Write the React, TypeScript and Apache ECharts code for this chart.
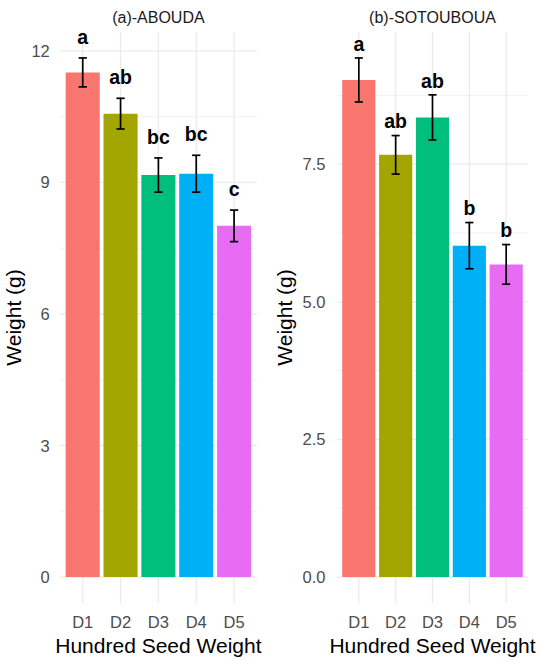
import React, { useEffect, useRef } from "react";
import * as echarts from "echarts";

// ---------- data ----------
const categories = ["D1", "D2", "D3", "D4", "D5"];
const barColors = ["#F8766D", "#A3A500", "#00BF7D", "#00B0F6", "#E76BF3"];

const aboudaMeans = [11.51, 10.57, 9.17, 9.2, 8.01];
const aboudaSE = [0.33, 0.35, 0.39, 0.42, 0.36];
const aboudaLetters = ["a", "ab", "bc", "bc", "c"];
const aboudaMajorTicks = [0, 3, 6, 9, 12];
const aboudaMinorTicks = [1.5, 4.5, 7.5, 10.5];

const sotoMeans = [9.03, 7.67, 8.35, 6.02, 5.68];
const sotoSE = [0.4, 0.35, 0.41, 0.42, 0.36];
const sotoLetters = ["a", "ab", "ab", "b", "b"];
const sotoMajorTicks = [0, 2.5, 5, 7.5];
const sotoMinorTicks = [1.25, 3.75, 6.25, 8.75];

const FONT = '"Liberation Sans", Arial, Helvetica, sans-serif';

type Panel = {
  title: string;
  means: number[];
  se: number[];
  letters: string[];
  major: number[];
  minor: number[];
  decimals: number;
  gridLeft: number;
  gridWidth: number;
  yNameGap: number;
  labelMargin: number;
  letterOffset: number;
};

const panels: Panel[] = [
  {
    title: "(a)-ABOUDA",
    means: aboudaMeans,
    se: aboudaSE,
    letters: aboudaLetters,
    major: aboudaMajorTicks,
    minor: aboudaMinorTicks,
    decimals: 0,
    gridLeft: 63.8,
    gridWidth: 189.2,
    yNameGap: 39.5,
    labelMargin: 14,
    letterOffset: 20.8,
  },
  {
    title: "(b)-SOTOUBOUA",
    means: sotoMeans,
    se: sotoSE,
    letters: sotoLetters,
    major: sotoMajorTicks,
    minor: sotoMinorTicks,
    decimals: 1,
    gridLeft: 340.4,
    gridWidth: 184.2,
    yNameGap: 45.7,
    labelMargin: 15,
    letterOffset: 14.3,
  },
];

const W = 550;
const H = 671;
const PANEL_TOP = 32;
const PANEL_BOTTOM = 603;

function buildOption() {
  const grid: any[] = [];
  const xAxis: any[] = [];
  const yAxis: any[] = [];
  const series: any[] = [];
  const graphic: any[] = [];

  panels.forEach((p, pi) => {
    const hi = Math.max(...p.means.map((m, i) => m + p.se[i]));
    grid.push({
      left: p.gridLeft,
      width: p.gridWidth,
      top: PANEL_TOP,
      bottom: H - PANEL_BOTTOM,
      containLabel: false,
    });
    xAxis.push({
      type: "category",
      gridIndex: pi,
      data: categories,
      axisLine: { show: false },
      axisTick: { show: false },
      splitLine: { show: false },
      axisLabel: {
        margin: 10,
        fontSize: 16.5,
        color: "#4D4D4D",
        fontFamily: FONT,
      },
      name: "Hundred Seed Weight",
      nameLocation: "middle",
      nameGap: 31,
      nameTextStyle: { fontSize: 21, color: "#000000", fontFamily: FONT },
    });
    yAxis.push({
      type: "value",
      gridIndex: pi,
      min: -0.05 * hi,
      max: 1.05 * hi,
      axisLine: { show: false },
      axisTick: { show: false },
      splitLine: { show: false },
      minorSplitLine: { show: false },
      axisLabel: {
        customValues: p.major,
        margin: p.labelMargin,
        fontSize: 16.5,
        color: "#4D4D4D",
        fontFamily: FONT,
        formatter: (v: number) => v.toFixed(p.decimals),
      },
      name: "Weight (g)",
      nameLocation: "middle",
      nameRotate: 90,
      nameGap: p.yNameGap,
      nameTextStyle: { fontSize: 21, color: "#000000", fontFamily: FONT },
    });

    // horizontal grid lines (major + minor), spanning the full ggplot panel
    const hData = [
      ...p.major.map((v) => [0, v, 1]),
      ...p.minor.map((v) => [0, v, 0]),
    ];
    series.push({
      type: "custom",
      xAxisIndex: pi,
      yAxisIndex: pi,
      z: 0,
      silent: true,
      data: hData,
      renderItem: (params: any, api: any) => {
        const cs = params.coordSys;
        const band = api.size([1, 0])[0];
        const y = api.coord([0, api.value(1)])[1];
        const major = api.value(2) === 1;
        return {
          type: "line",
          shape: {
            x1: cs.x - 0.1 * band,
            y1: y,
            x2: cs.x + cs.width + 0.1 * band,
            y2: y,
          },
          style: { stroke: "#EBEBEB", lineWidth: major ? 1.3 : 0.7 },
        };
      },
    });

    // vertical grid lines at category centres
    series.push({
      type: "custom",
      xAxisIndex: pi,
      yAxisIndex: pi,
      z: 0,
      silent: true,
      data: categories.map((_, i) => [i, 0]),
      renderItem: (params: any, api: any) => {
        const cs = params.coordSys;
        const x = api.coord([api.value(0), 0])[0];
        return {
          type: "line",
          shape: { x1: x, y1: cs.y, x2: x, y2: cs.y + cs.height },
          style: { stroke: "#EBEBEB", lineWidth: 1.3 },
        };
      },
    });

    // bars
    series.push({
      type: "bar",
      xAxisIndex: pi,
      yAxisIndex: pi,
      z: 2,
      barCategoryGap: "10%",
      data: p.means.map((m, i) => ({
        value: m,
        itemStyle: { color: barColors[i] },
      })),
    });

    // error bars + letters
    series.push({
      type: "custom",
      xAxisIndex: pi,
      yAxisIndex: pi,
      z: 3,
      silent: true,
      data: p.means.map((m, i) => [i, m, p.se[i]]),
      renderItem: (params: any, api: any) => {
        const i = api.value(0);
        const m = api.value(1);
        const s = api.value(2);
        const top = api.coord([i, m + s]);
        const bot = api.coord([i, m - s]);
        const cap = api.size([1, 0])[0] * 0.11;
        const st = { stroke: "#000000", lineWidth: 1.7 };
        return {
          type: "group",
          children: [
            { type: "line", shape: { x1: top[0], y1: top[1], x2: bot[0], y2: bot[1] }, style: st },
            { type: "line", shape: { x1: top[0] - cap, y1: top[1], x2: top[0] + cap, y2: top[1] }, style: st },
            { type: "line", shape: { x1: bot[0] - cap, y1: bot[1], x2: bot[0] + cap, y2: bot[1] }, style: st },
            {
              type: "text",
              style: {
                text: p.letters[params.dataIndex],
                x: top[0],
                y: top[1] - p.letterOffset,
                textAlign: "center",
                textVerticalAlign: "middle",
                font: `bold 19.5px ${FONT}`,
                fill: "#000000",
              },
            },
          ],
        };
      },
    });

    // facet strip title
    graphic.push({
      type: "text",
      x: p.gridLeft + p.gridWidth / 2,
      y: 17.8,
      style: {
        text: p.title,
        textAlign: "center",
        textVerticalAlign: "middle",
        font: `16px ${FONT}`,
        fill: "#1A1A1A",
      },
    });
  });

  return {
    animation: false,
    backgroundColor: "#FFFFFF",
    grid,
    xAxis,
    yAxis,
    series,
    graphic,
  };
}

export default function App() {
  const ref = useRef<HTMLDivElement>(null);
  useEffect(() => {
    if (!ref.current) return;
    const chart = echarts.init(ref.current, undefined, { renderer: "svg" });
    chart.setOption(buildOption() as any);
    return () => chart.dispose();
  }, []);
  return (
    <div
      ref={ref}
      style={{ position: "fixed", left: 0, top: 0, width: W, height: H, background: "#FFFFFF" }}
    />
  );
}
